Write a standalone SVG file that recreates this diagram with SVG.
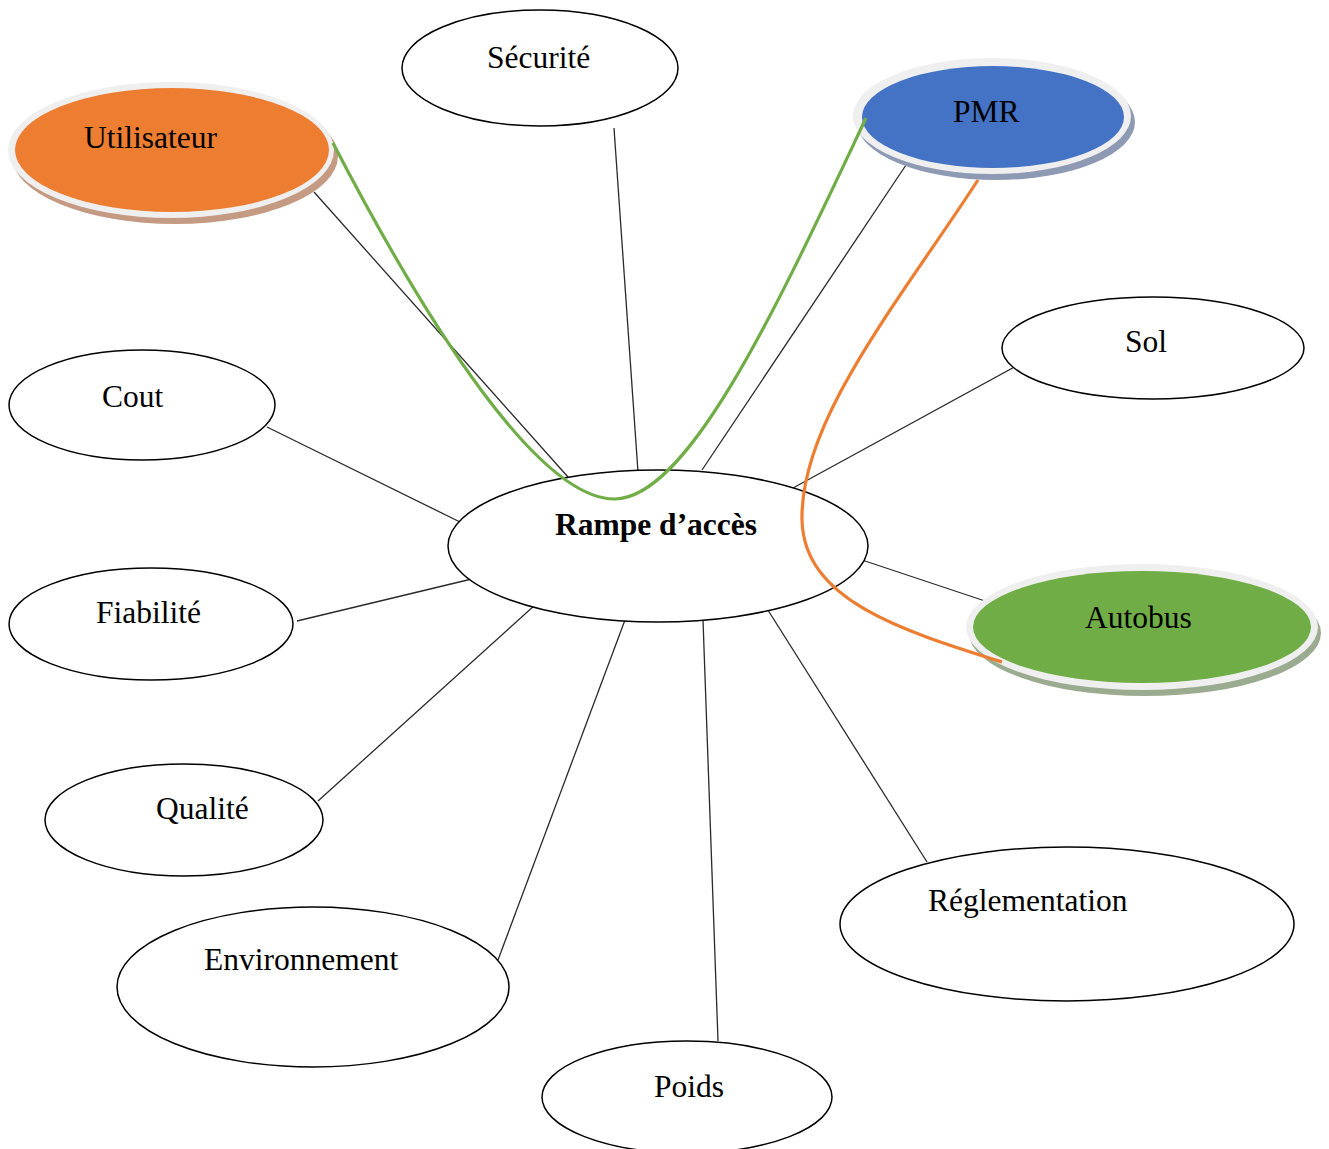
<svg xmlns="http://www.w3.org/2000/svg" width="1329" height="1149" viewBox="0 0 1329 1149">
<style>
text{font-family:"Liberation Serif","Times New Roman",serif;font-size:31.5px;fill:#000}
.b{font-weight:bold}
.n{fill:#fff;stroke:#000;stroke-width:1.5}
.ring{fill:#efefef}
.c line{stroke:#2a2a2a;stroke-width:1.3}
.cv{fill:none;stroke-width:3.2}
</style>
<rect width="1329" height="1149" fill="#fff"/>
<g class="c" id="connectors">
<line x1="614" y1="128" x2="638" y2="472"/>
<line x1="314" y1="192" x2="568" y2="477"/>
<line x1="906" y1="165" x2="702" y2="470"/>
<line x1="1018" y1="365" x2="793" y2="488"/>
<line x1="267" y1="427" x2="460" y2="522"/>
<line x1="297" y1="621" x2="480" y2="577"/>
<line x1="856" y1="558" x2="997" y2="605"/>
<line x1="318" y1="801" x2="535" y2="605"/>
<line x1="498" y1="960" x2="625" y2="620"/>
<line x1="718" y1="1041" x2="703" y2="620"/>
<line x1="927" y1="862" x2="766" y2="607"/>
</g>
<g id="rampe"><ellipse class="n" cx="658" cy="546" rx="210" ry="76"/><text class="b" x="555" y="535">Rampe d’accès</text></g>
<g id="securite"><ellipse class="n" cx="540" cy="68" rx="138" ry="58"/><text x="487" y="68">Sécurité</text></g>
<g id="sol"><ellipse class="n" cx="1153" cy="348" rx="151" ry="51"/><text x="1125" y="352">Sol</text></g>
<g id="cout"><ellipse class="n" cx="142" cy="405" rx="133" ry="55"/><text x="102" y="407">Cout</text></g>
<g id="fiabilite"><ellipse class="n" cx="151" cy="624" rx="142" ry="56"/><text x="96" y="623">Fiabilité</text></g>
<g id="qualite"><ellipse class="n" cx="184" cy="820" rx="139" ry="56"/><text x="156" y="819">Qualité</text></g>
<g id="environnement"><ellipse class="n" cx="313" cy="987" rx="196" ry="80"/><text x="204" y="970">Environnement</text></g>
<g id="poids"><ellipse class="n" cx="687" cy="1097" rx="145" ry="56"/><text x="654" y="1097">Poids</text></g>
<g id="reglementation"><ellipse class="n" cx="1067" cy="924" rx="227" ry="77"/><text x="928" y="911">Réglementation</text></g>
<g id="utilisateur">
<ellipse cx="175" cy="156" rx="163" ry="68" fill="#c49a83"/>
<ellipse class="ring" cx="171" cy="150" rx="163" ry="68"/>
<ellipse cx="172" cy="150" rx="157" ry="62" fill="#ed7d31"/>
<text x="84" y="148">Utilisateur</text>
</g>
<g id="pmr">
<ellipse cx="996" cy="122" rx="139" ry="58" fill="#8e9ab4"/>
<ellipse class="ring" cx="992" cy="116" rx="139" ry="58"/>
<ellipse cx="993" cy="117" rx="131" ry="51" fill="#4472c4"/>
<text x="953" y="122">PMR</text>
</g>
<g id="autobus">
<ellipse cx="1145" cy="633" rx="176" ry="63" fill="#9aab90"/>
<ellipse class="ring" cx="1142" cy="627" rx="176" ry="63"/>
<ellipse cx="1142" cy="627" rx="169" ry="56" fill="#70ad47"/>
<text x="1085" y="628">Autobus</text>
</g>
<g id="curves">
<path class="cv" stroke="#70ad47" d="M333 143 C430 330 540 500 615 499 C690 498 780 300 866 118"/>
<path class="cv" stroke="#ed7d31" d="M978 180 C900 300 800 420 802 520 C804 600 900 630 1002 662"/>
</g>
</svg>
